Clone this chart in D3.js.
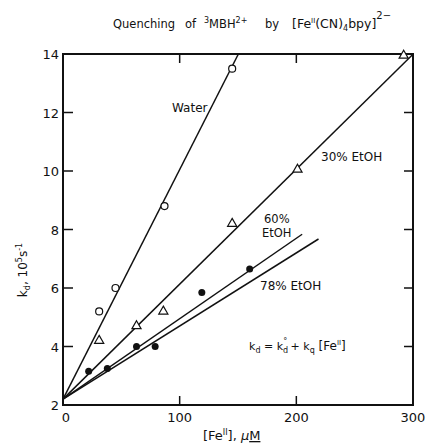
<!DOCTYPE html>
<html>
<head>
<meta charset="utf-8">
<script src="https://cdn.jsdelivr.net/npm/d3@7"></script>
<style>
  body { margin: 0; background: #fff; }
  text { font-family: "DejaVu Sans", sans-serif; fill: #111; }
</style>
</head>
<body>
<svg width="429" height="446"></svg>
<script>
// Data ([Fe] in uM, kd in 10^5 s^-1)
const waterX = [31, 45, 87, 145];
const waterY = [5.2, 6.0, 8.8, 13.5];
const eth30X = [31, 63, 86, 145, 201, 292];
const eth30Y = [4.2, 4.7, 5.2, 8.2, 10.05, 13.95];
const eth60X = [22, 38, 63, 79, 119, 160];
const eth60Y = [3.15, 3.25, 4.0, 4.0, 5.85, 6.65];
const eth78X = [12, 55, 78, 120, 161];
const eth78Y = [2.8, 3.4, 4.1, 5.6, 6.3];

// fitted lines: [intercept, slope, xEnd]
const fitWater = [2.2, 0.0785, 150];
const fit30 = [2.2, 0.0393, 300];
const fit60 = [2.2, 0.0275, 205];
const fit78 = [2.2, 0.0250, 219];

const xTicks = [0, 100, 200, 300];
const yTicks = [2, 4, 6, 8, 10, 12, 14];

const svg = d3.select('svg');
const x = d3.scaleLinear().domain([0, 300]).range([63, 413]);
const y = d3.scaleLinear().domain([2, 14]).range([405, 54]);

// clip so the water line stops at the frame
svg.append('clipPath').attr('id', 'plot')
  .append('rect').attr('x', x(0)).attr('y', y(14)).attr('width', x(300) - x(0)).attr('height', y(2) - y(14));

const g = svg.append('g');

// frame
g.append('rect')
  .attr('x', x(0)).attr('y', y(14))
  .attr('width', x(300) - x(0)).attr('height', y(2) - y(14))
  .style('fill', 'none').style('stroke', '#111').style('stroke-width', 2);

// inward ticks
[4, 6, 8, 10, 12].forEach(v => {
  g.append('line').attr('x1', x(0)).attr('x2', x(0) + 10).attr('y1', y(v)).attr('y2', y(v))
    .style('stroke', '#111').style('stroke-width', 1.5);
  g.append('line').attr('x1', x(300)).attr('x2', x(300) - 9).attr('y1', y(v)).attr('y2', y(v))
    .style('stroke', '#111').style('stroke-width', 1.5);
});
[100, 200].forEach(v => {
  g.append('line').attr('x1', x(v)).attr('x2', x(v)).attr('y1', y(2)).attr('y2', y(2) - 9)
    .style('stroke', '#111').style('stroke-width', 1.5);
  g.append('line').attr('x1', x(v)).attr('x2', x(v)).attr('y1', y(14)).attr('y2', y(14) + 9)
    .style('stroke', '#111').style('stroke-width', 1.5);
});

// tick labels
yTicks.forEach(v => {
  g.append('text').text(v)
    .attr('x', x(0) - 4).attr('y', y(v) + 5)
    .attr('text-anchor', 'end').style('font-size', '13px');
});
xTicks.forEach(v => {
  g.append('text').text(v)
    .attr('x', x(v) + (v === 0 ? 3 : 0)).attr('y', y(2) + 17)
    .attr('text-anchor', 'middle').style('font-size', '13px');
});

// fit lines
const fits = [fitWater, fit30, fit60, fit78];
fits.forEach(f => {
  g.append('line')
    .attr('clip-path', 'url(#plot)')
    .attr('x1', x(0)).attr('y1', y(f[0]))
    .attr('x2', x(f[2])).attr('y2', y(f[0] + f[1] * f[2]))
    .style('stroke', '#111').style('stroke-width', 1.5);
});

// markers
waterX.forEach((v, i) => {
  g.append('circle').attr('cx', x(v)).attr('cy', y(waterY[i])).attr('r', 3.5)
    .style('fill', '#fff').style('stroke', '#111').style('stroke-width', 1.2);
});
const tri = d3.symbol().type(d3.symbolTriangle).size(36);
eth30X.forEach((v, i) => {
  g.append('path').attr('d', tri)
    .attr('transform', `translate(${x(v)},${y(eth30Y[i])})`)
    .style('fill', '#fff').style('stroke', '#111').style('stroke-width', 1.2);
});
eth60X.forEach((v, i) => {
  g.append('circle').attr('cx', x(v)).attr('cy', y(eth60Y[i])).attr('r', 3.5)
    .style('fill', '#111');
});
eth78X.forEach((v, i) => {
  g.append('path').attr('d', d3.symbol().type(d3.symbolTimes).size(14))
    .attr('transform', `translate(${x(v)},${y(eth78Y[i]) + 2})`)
    .style('fill', '#111');
});

// series labels
const lab = (t, px, py, fs) => g.append('text').text(t).attr('x', px).attr('y', py).style('font-size', fs || '12px');
lab('Water', 172, 112);
lab('30% EtOH', 321, 161);
lab('60%', 264, 223, '11.5px');
lab('EtOH', 262, 237, '11.5px');
lab('78% EtOH', 260, 290);

// equation
const eq = g.append('text').attr('x', 249).attr('y', 350).style('font-size', '11px');
eq.append('tspan').text('k');
eq.append('tspan').text('d').attr('dy', 3).style('font-size', '8px');
eq.append('tspan').text(' = k').attr('dy', -3);
eq.append('tspan').text('d').attr('dy', 3).style('font-size', '8px');
eq.append('tspan').text('°').attr('dx', -5).attr('dy', -9).style('font-size', '8px');
eq.append('tspan').text(' + k').attr('dy', 6);
eq.append('tspan').text('q').attr('dy', 3).style('font-size', '8px');
eq.append('tspan').text(' [Fe').attr('dy', -3).style('font-size', '12px');
eq.append('tspan').text('II').attr('dy', -5).style('font-size', '7px');
eq.append('tspan').text(']').attr('dy', 5).style('font-size', '12px');

// x axis title
const xl = g.append('text').attr('x', 203).attr('y', 440).style('font-size', '13px');
xl.append('tspan').text('[Fe');
xl.append('tspan').text('II').attr('dy', -5).style('font-size', '8px');
xl.append('tspan').text('],  ').attr('dy', 5);
xl.append('tspan').text('μ').style('font-style', 'italic');
xl.append('tspan').text('M').style('text-decoration', 'underline');

// y axis title
const yl = g.append('text').attr('transform', 'translate(27,270) rotate(-90)')
  .attr('text-anchor', 'middle').style('font-size', '12px');
yl.append('tspan').text('k');
yl.append('tspan').text('d').attr('dy', 3).style('font-size', '8px');
yl.append('tspan').text(',  10').attr('dy', -3);
yl.append('tspan').text('5').attr('dy', -5).style('font-size', '8px');
yl.append('tspan').text('s').attr('dy', 5);
yl.append('tspan').text('-1').attr('dy', -5).style('font-size', '8px');

// title, words placed apart like the original
const tw = (px) => svg.append('text').attr('x', px).attr('y', 28).style('font-size', '11.5px');
tw(113).text('Quenching');
tw(185).text('of');
const t1 = tw(204);
t1.append('tspan').text('3').attr('dy', -5).style('font-size', '8px');
t1.append('tspan').text('MBH').attr('dy', 5);
t1.append('tspan').text('2+').attr('dy', -5).style('font-size', '8px');
tw(265).text('by');
const t2 = tw(292).style('font-size', '12.5px');
t2.append('tspan').text('[Fe');
t2.append('tspan').text('II').attr('dy', -5).style('font-size', '7px');
t2.append('tspan').text('(CN)').attr('dy', 5);
t2.append('tspan').text('4').attr('dy', 3).style('font-size', '8px');
t2.append('tspan').text('bpy]').attr('dy', -3);
t2.append('tspan').text('2−').attr('dy', -9).style('font-size', '10px');
</script>
</body>
</html>
